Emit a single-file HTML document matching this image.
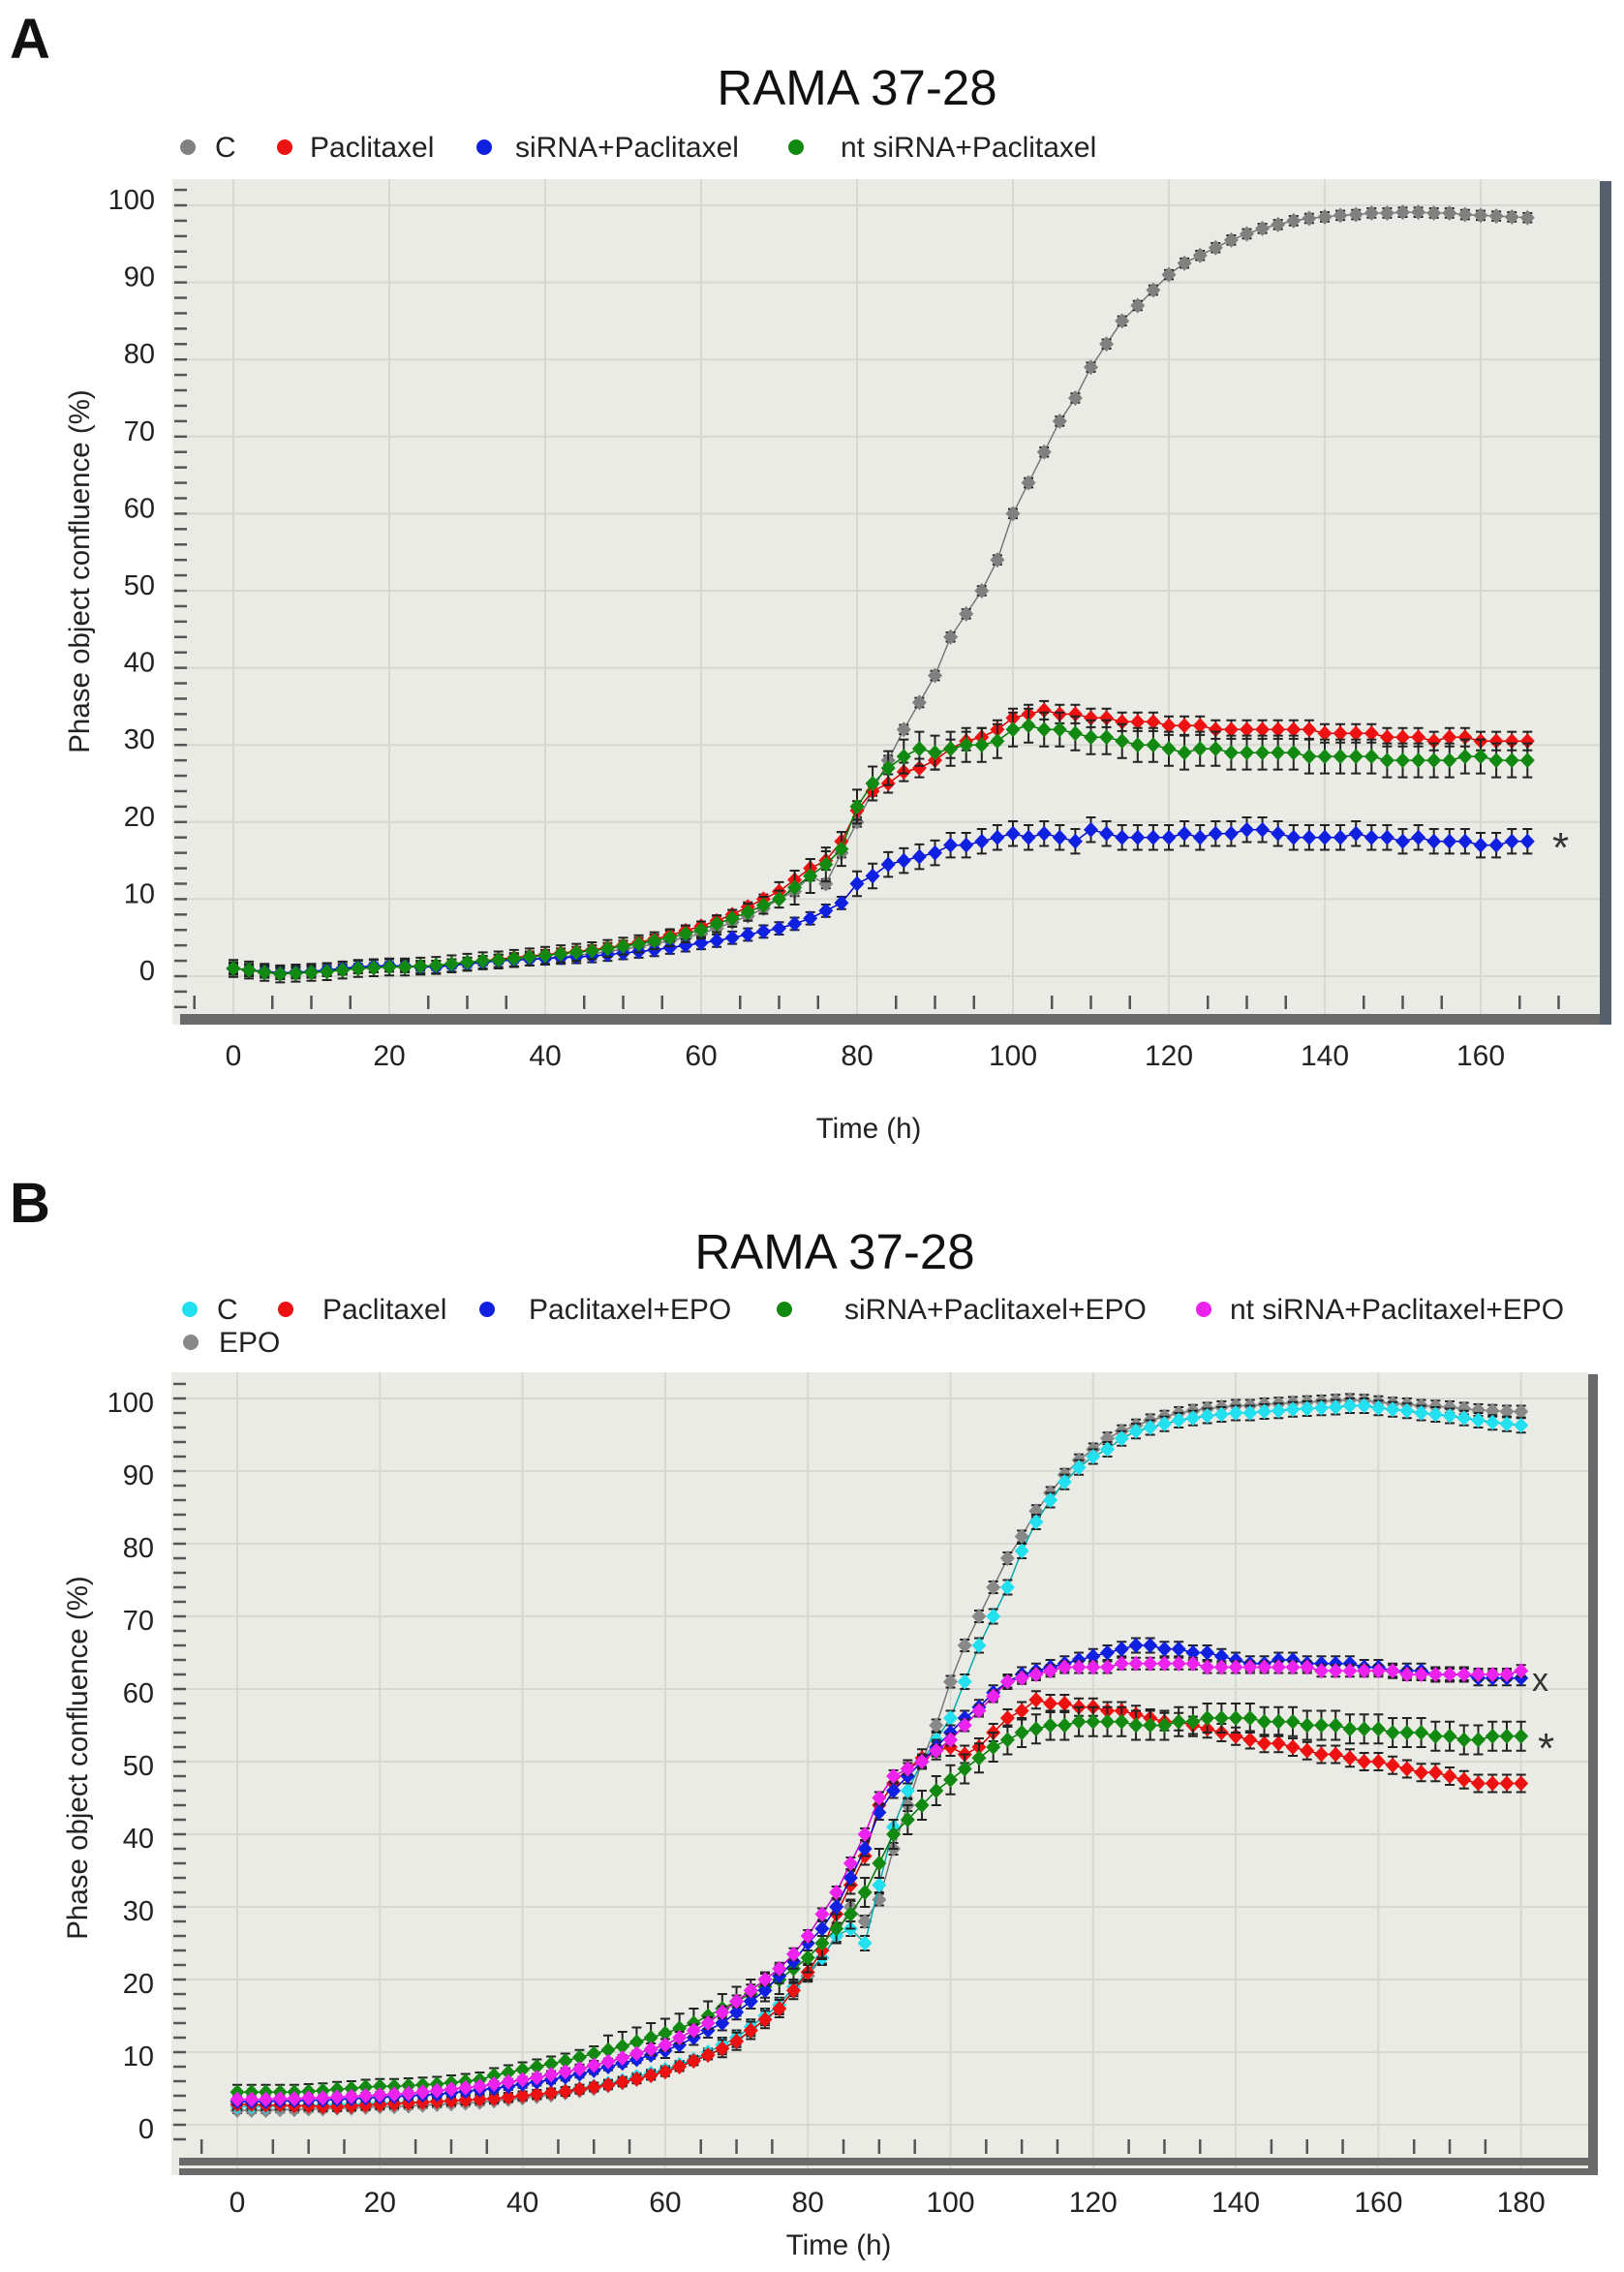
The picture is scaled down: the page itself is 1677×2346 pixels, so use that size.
<!DOCTYPE html>
<html><head><meta charset="utf-8">
<style>
html,body{margin:0;padding:0;background:#fff;}
svg{display:block;font-family:"Liberation Sans",Arial,sans-serif;}
</style></head>
<body>
<svg id="fig" width="1677" height="2346" viewBox="0 0 1677 2346" xmlns="http://www.w3.org/2000/svg">
<text x="10" y="60" font-size="58" font-weight="bold" fill="#111">A</text>
<text x="885" y="108" font-size="51" text-anchor="middle" fill="#111">RAMA 37-28</text>
<text x="10" y="1262" font-size="58" font-weight="bold" fill="#111">B</text>
<text x="862" y="1310" font-size="51" text-anchor="middle" fill="#111">RAMA 37-28</text>
<g id="chartA"></g>
<g id="chartB"></g>
</svg>
<script>
// ---------- Chart A data (t = 0..166 h, step 2) ----------
const timesA = [0,2,4,6,8,10,12,14,16,18,20,22,24,26,28,30,32,34,36,38,40,42,44,46,48,50,52,54,56,58,60,62,64,66,68,70,72,74,76,78,80,82,84,86,88,90,92,94,96,98,100,102,104,106,108,110,112,114,116,118,120,122,124,126,128,130,132,134,136,138,140,142,144,146,148,150,152,154,156,158,160,162,164,166];
const aControl = [1,0.8,0.5,0.3,0.4,0.5,0.6,0.8,1,1.1,1.2, 1.2,1.3,1.3,1.5,1.7,1.9,2,2.1,2.2,2.4, 2.5,2.7,2.9,3.2,3.5,3.8,4.2,4.6,5,5.5, 6.2,7,7.8,8.8,10,11,13,12,16,20, 24,28,32,35.5,39,44,47,50,54,60, 64,68,72,75,79,82,85,87,89,91, 92.5,93.5,94.5,95.5,96.3,97,97.5,98,98.3,98.5, 98.7,98.8,99,99,99.1,99.1,99,99,98.8,98.7,98.6,98.5,98.4];
const aPaclitaxel = [1,0.8,0.6,0.4,0.5,0.6,0.7,0.9,1,1.1,1.2, 1.3,1.3,1.4,1.6,1.8,2,2.2,2.4,2.6,2.8, 3,3.2,3.4,3.7,4,4.4,4.8,5.3,5.9,6.5, 7.2,8,9,10,11,12.5,14,15,17.5,21.5, 24,25,26.5,27,28,29.5,30.5,31,32,33.5, 34,34.5,34,34,33.5,33.5,33,33,33,32.5, 32.5,32.5,32,32,32,32,32,32,32,31.5, 31.5,31.5,31.5,31,31,31,30.5,31,31,30.5,30.5,30.5,30.5];
const aSiRNA = [1,0.8,0.6,0.4,0.5,0.6,0.8,1,1.2,1.3,1.4, 1.3,1.2,1.2,1.4,1.6,1.8,2,2.1,2.2,2.3, 2.4,2.5,2.6,2.8,3,3.2,3.4,3.7,4,4.3, 4.6,5,5.4,5.8,6.2,6.8,7.5,8.5,9.5,12, 13,14.5,15,15.5,16,17,17,17.5,18,18.5, 18,18.5,18,17.5,19,18.5,18,18,18,18, 18.5,18,18.5,18.5,19,19,18.5,18,18,18, 18,18.5,18,18,17.5,18,17.5,17.5,17.5,17,17,17.5,17.5];
const aNtSiRNA = [1,0.8,0.5,0.3,0.4,0.5,0.6,0.8,1,1.1,1.2, 1.2,1.3,1.4,1.6,1.8,2,2.1,2.3,2.5,2.7, 2.9,3.1,3.3,3.6,3.9,4.2,4.6,5,5.5,6, 6.8,7.5,8.3,9.2,10,11.5,13,14.5,16.5,22, 25,27,28.5,29.5,29,29.5,30,30,30.5,32, 32.5,32,32,31.5,31,31,30.5,30,30,29.5, 29,29.5,29.5,29,29,29,29,29,28.5,28.5, 28.5,28.5,28.5,28,28,28,28,28,28.5,28.5,28,28,28];
const errA = [0.6, 1.2, 1.6, 2.2];
const xTicksA = [0,20,40,60,80,100,120,140,160];
const yTicksA = [0,10,20,30,40,50,60,70,80,90,100];

// ---------- Chart B data (t = 0..180 h, step 2) ----------
const timesB = [0,2,4,6,8,10,12,14,16,18,20,22,24,26,28,30,32,34,36,38,40,42,44,46,48,50,52,54,56,58,60,62,64,66,68,70,72,74,76,78,80,82,84,86,88,90,92,94,96,98,100,102,104,106,108,110,112,114,116,118,120,122,124,126,128,130,132,134,136,138,140,142,144,146,148,150,152,154,156,158,160,162,164,166,168,170,172,174,176,178,180];
const bControl = [2.5,2.5,2.5,2.6,2.6,2.7,2.7,2.8,2.8,2.9, 3,3,3.1,3.1,3.2,3.3,3.4,3.5,3.6,3.8, 4,4.2,4.4,4.7,5,5.3,5.7,6.1,6.6,7.1, 7.6,8.3,9,10,11,12,13.5,15,16.5,19, 21,23,26,27,25,33,41,46,50,53, 56,61,66,70,74,79,83,86,88.5,90.5, 92,93,94.5,95.5,96,96.5,97,97.3,97.6,97.8, 98,98,98.2,98.3,98.5,98.6,98.7,98.8,99,99, 98.7,98.5,98.3,98,97.8,97.6,97.3,97,96.7,96.5, 96.3];
const bPaclitaxel = [2.8,2.8,2.7,2.7,2.6,2.6,2.5,2.5,2.6,2.7, 2.8,2.9,3,3.1,3.2,3.3,3.4,3.5,3.6,3.8, 4,4.2,4.4,4.6,4.9,5.2,5.5,5.9,6.3,6.8, 7.3,8,8.8,9.6,10.5,11.5,13,14.5,16,18.5, 21,24,29,33,37,44,47,49,50.5,51.5, 52,51,52,54,56,57,58.5,58,58,57.5, 57.5,57,57,56.5,56,55.5,55.5,55,54.5,54, 53.5,53,52.5,52.5,52,51.5,51,51,50.5,50, 50,49.5,49,48.5,48.5,48,47.5,47,47,47, 47];
const bPaclitaxelEpo = [3.2,3.2,3.2,3.3,3.3,3.4,3.4,3.5,3.6,3.7, 3.8,3.9,4,4.1,4.2,4.4,4.6,4.8,5,5.3, 5.6,5.9,6.2,6.6,7,7.5,8,8.5,9,9.6, 10.2,11,12,13,14,15.5,17,18.5,20.5,22.5, 25,27,30,34,38,43,46,48,50,52, 54,56,57.5,59.5,61,62,62.5,63,63.5,64, 64.5,65,65.5,66,66,65.5,65.5,65,65,64.5, 64,63.5,63.5,64,64,63.5,63.5,63.5,63.5,63, 63,62.5,62.5,62.5,62,62,62,61.5,61.5,61.5, 61.5];
const bSiRNAEpo = [4.5,4.5,4.5,4.5,4.5,4.6,4.7,4.9,5,5.2, 5.3,5.3,5.4,5.5,5.6,5.8,6,6.2,6.8,7.2, 7.6,8,8.4,8.8,9.3,9.8,10.3,10.8,11.4,12, 12.6,13.3,14,15,16,17,18,19,20,21.5, 23,25,27,29,32,36,40,42,44,46, 47.5,49,50.5,52,53,54,54.5,55,55,55.5, 55.5,55.5,55.5,55,55,55,55.5,55.5,56,56, 56,56,55.5,55.5,55.5,55,55,55,54.5,54.5, 54.5,54,54,54,53.5,53.5,53,53,53.5,53.5, 53.5];
const bNtSiRNAEpo = [3.5,3.5,3.5,3.6,3.6,3.7,3.7,3.8,3.9,4, 4.1,4.2,4.3,4.5,4.7,4.9,5.1,5.3,5.6,5.9, 6.2,6.5,6.9,7.3,7.7,8.2,8.7,9.2,9.8,10.4, 11,12,13,14,15.5,17,18.5,20,21.5,23.5, 26,29,32,36,40,45,48,49,50,51.5, 53,55,57,59,61,61.5,62,62.5,63,63, 63,63,63.5,63.5,63.5,63.5,63.5,63.5,63,63, 63,63,63,63,63,63,62.5,62.5,62.5,62.5, 62.5,62.5,62,62,62,62,62,62,62,62, 62.5];
const bEpo = [2,2,2,2.1,2.1,2.2,2.2,2.3,2.3,2.4, 2.5,2.5,2.6,2.7,2.8,2.9,3,3.1,3.3,3.5, 3.7,3.9,4.1,4.4,4.7,5,5.4,5.8,6.3,6.8, 7.4,8,8.8,9.6,10.5,11.5,13,14.5,16,18.5, 20.5,23,26,30,28,31,38,44,50,55, 61,66,70,74,78,81,84.5,87,89.5,91.5, 93,94.5,95.5,96.3,97,97.5,98,98.3,98.6,98.8, 99,99,99.2,99.3,99.4,99.5,99.6,99.7,99.8,99.7, 99.5,99.3,99.2,99,98.9,98.8,98.6,98.4,98.3,98.2, 98.2];
const errB = [0.8, 1.0, 1.2, 2.0, 1.0, 0.8];
const xTicksB = [0,20,40,60,80,100,120,140,160,180];
const yTicksB = [0,10,20,30,40,50,60,70,80,90,100];

const NS = 'http://www.w3.org/2000/svg';
function mk(parent, tag, attrs, text){
  const e = document.createElementNS(NS, tag);
  for (const k in attrs) e.setAttribute(k, attrs[k]);
  if (text !== undefined) e.textContent = text;
  parent.appendChild(e);
  return e;
}

function drawChart(g, cfg){
  const X = t => cfg.x0 + t * cfg.xs;
  const Y = v => cfg.y0 - v * cfg.ys;
  const bg = mk(g, 'rect', {x:cfg.left, y:cfg.top, width:cfg.right-cfg.left, height:cfg.bottom-cfg.top, fill:'#ebebe6'});
  
  
  cfg.yTicks.forEach(v => {
    const l = mk(g, 'line', {x1:cfg.left, x2:cfg.right, y1:Y(v), y2:Y(v), stroke:'#d8d8d2', 'stroke-width':2});
    
    
  });
  cfg.xTicks.forEach(t => {
    const l = mk(g, 'line', {x1:X(t), x2:X(t), y1:cfg.top, y2:cfg.bottom, stroke:'#d8d8d2', 'stroke-width':2});
    
    
  });
  for (let v = cfg.yMinorStart; v <= 102; v += 2){
    const l = mk(g, 'line', {x1:cfg.left+2, x2:cfg.left+15, y1:Y(v), y2:Y(v), stroke:'#555', 'stroke-width':2.5});
    
    
  }
  for (let t = -5; t <= cfg.tMax; t += 5){
    if (t % 20 === 0) continue;
    const l = mk(g, 'line', {x1:X(t), x2:X(t), y1:cfg.tickY1, y2:cfg.tickY2, stroke:'#555', 'stroke-width':2.5});
    
    
  }
  cfg.bars.forEach(b => {
    const r = mk(g, 'rect', {x:cfg.left+8, y:b[0], width:cfg.right-cfg.left-4, height:b[1], fill:'#6a6a6a'});
    
    
  });
  const rb = mk(g, 'rect', {x:cfg.right, y:cfg.top+2, width:cfg.rbw, height:cfg.bars[cfg.bars.length-1][0]+cfg.bars[cfg.bars.length-1][1]-cfg.top-2, fill:cfg.rbColor});
  
  
  cfg.yTicks.forEach(v => {
    const t = mk(g, 'text', {x:cfg.left-18, y:Y(v)+cfg.yLabOff, 'font-size':29, 'text-anchor':'end', fill:'#222'}, String(v));
    
    
  });
  cfg.xTicks.forEach(v => {
    const t = mk(g, 'text', {x:X(v), y:cfg.xLabY, 'font-size':30, 'text-anchor':'middle', fill:'#222'}, String(v));
    
    
  });
  const xt = mk(g, 'text', {x:cfg.xTitleX, y:cfg.xTitleY, 'font-size':29.5, 'text-anchor':'middle', fill:'#222'}, 'Time (h)');
  
  
  const yt = mk(g, 'text', {x:0, y:0, 'font-size':29.5, 'text-anchor':'middle', fill:'#222', transform:`translate(${cfg.yTitleX},${cfg.yTitleY}) rotate(-90)`}, 'Phase object confluence (%)');
  
  
  cfg.series.forEach((s, si) => {
    const sg = mk(g, 'g', {});
    
    
    const pts = s.values.map((v,i) => X(cfg.times[i]).toFixed(1) + ',' + Y(v).toFixed(1)).join(' ');
    const pl = mk(sg, 'polyline', {points:pts, fill:'none', stroke:s.line, 'stroke-width':1.5});
    
    
    s.values.forEach((v,i) => {
      const cx = X(cfg.times[i]), cy = Y(v);
      const e = cfg.err[si] * (v > 10 ? 1 : 0.5) * cfg.ys;
      const eb = mk(sg, 'path', {d:`M${cx},${cy-e}V${cy+e}M${cx-5},${cy-e}H${cx+5}M${cx-5},${cy+e}H${cx+5}`, stroke:'#222', 'stroke-width':2, fill:'none'});
      
      
      const m = mk(sg, 'path', {d:`M${cx},${cy-8}L${cx+7.5},${cy}L${cx},${cy+8}L${cx-7.5},${cy}Z`, fill:s.color});
      
      
    });
  });
  cfg.legend.forEach(l => {
    const lg = mk(g, 'g', {});
    
    
    const c = mk(lg, 'circle', {cx:l.mx, cy:l.y-10, r:8, fill:l.color});
    
    
    const t = mk(lg, 'text', {x:l.tx, y:l.y, 'font-size':30, fill:'#222'}, l.label);
    
    
  });
  cfg.marks.forEach(mm => {
    const t = mk(g, 'text', {x:mm.x, y:mm.y, 'font-size':mm.size, fill:'#333'}, mm.s);
    
    
  });
}

drawChart(document.getElementById('chartA'), {
  left:178, right:1652, top:185, bottom:1058,
  x0:241, xs:8.05, y0:1008, ys:7.96, tMax:172, yMinorStart:-4,
  times:timesA, xTicks:xTicksA, yTicks:yTicksA, err:errA,
  tickY1:1028, tickY2:1042, bars:[[1047,11]], rbw:12, rbColor:'#56606c',
  yLabOff:4, xLabY:1100, xTitleX:897, xTitleY:1175, yTitleX:92, yTitleY:590,
  series:[
    {key:'control', values:aControl, color:'#808080', line:'#777'},
    {key:'paclitaxel', values:aPaclitaxel, color:'#ee1111', line:'#c00'},
    {key:'sirna-paclitaxel', values:aSiRNA, color:'#1020e0', line:'#00c'},
    {key:'nt-sirna-paclitaxel', values:aNtSiRNA, color:'#128a12', line:'#070'}
  ],
  legend:[
    {mx:194, tx:222, y:162, color:'#808080', label:'C'},
    {mx:294, tx:320, y:162, color:'#ee1111', label:'Paclitaxel'},
    {mx:500, tx:532, y:162, color:'#1020e0', label:'siRNA+Paclitaxel'},
    {mx:822, tx:868, y:162, color:'#128a12', label:'nt siRNA+Paclitaxel'}
  ],
  marks:[{x:1603, y:890, s:'*', size:44}]
});

drawChart(document.getElementById('chartB'), {
  left:177, right:1640, top:1417, bottom:2246,
  x0:245, xs:7.365, y0:2194, ys:7.5, tMax:184, yMinorStart:-2,
  times:timesB, xTicks:xTicksB, yTicks:yTicksB, err:errB,
  tickY1:2209, tickY2:2224, bars:[[2228,8],[2239,7]], rbw:10, rbColor:'#6a6a6a',
  yLabOff:14, xLabY:2284, xTitleX:866, xTitleY:2328, yTitleX:90, yTitleY:1815,
  series:[
    {key:'epo', values:bEpo, color:'#888888', line:'#777'},
    {key:'control', values:bControl, color:'#22e0f0', line:'#0aa'},
    {key:'paclitaxel', values:bPaclitaxel, color:'#ee1111', line:'#c00'},
    {key:'sirna-paclitaxel-epo', values:bSiRNAEpo, color:'#128a12', line:'#070'},
    {key:'paclitaxel-epo', values:bPaclitaxelEpo, color:'#1020e0', line:'#00c'},
    {key:'nt-sirna-paclitaxel-epo', values:bNtSiRNAEpo, color:'#ee22ee', line:'#c0c'}
  ],
  legend:[
    {mx:196, tx:224, y:1362, color:'#22e0f0', label:'C'},
    {mx:295, tx:333, y:1362, color:'#ee1111', label:'Paclitaxel'},
    {mx:503, tx:546, y:1362, color:'#1020e0', label:'Paclitaxel+EPO'},
    {mx:810, tx:872, y:1362, color:'#128a12', label:'siRNA+Paclitaxel+EPO'},
    {mx:1243, tx:1270, y:1362, color:'#ee22ee', label:'nt siRNA+Paclitaxel+EPO'},
    {mx:197, tx:226, y:1396, color:'#888888', label:'EPO'}
  ],
  marks:[{x:1582, y:1746, s:'x', size:34},{x:1588, y:1820, s:'*', size:44}]
});
</script>
</body></html>
